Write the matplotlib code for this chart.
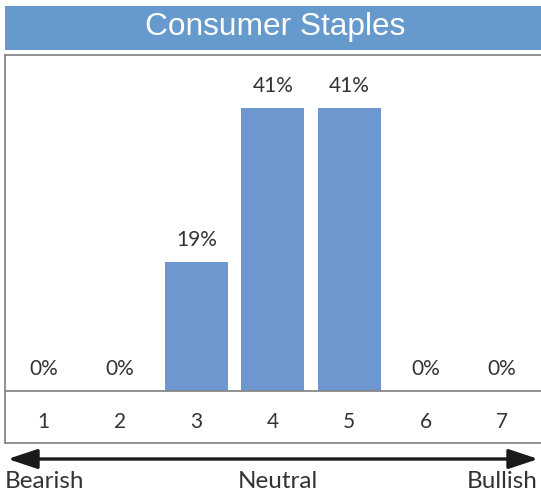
import matplotlib
matplotlib.use("Agg")
import matplotlib.pyplot as plt
from matplotlib.patches import Rectangle, FancyArrowPatch

categories = ["1", "2", "3", "4", "5", "6", "7"]
values = [0.0, 0.0, 18.5, 40.7, 40.7, 0.0, 0.0]
value_labels = ["0%", "0%", "19%", "41%", "41%", "0%", "0%"]
title = "Consumer Staples"
scale_labels = ["Bearish", "Neutral", "Bullish"]

W, H = 541, 492
fig = plt.figure(figsize=(W / 100, H / 100), dpi=100)
fig.patch.set_facecolor("white")

def fx(px):
    return px / W

def fy(py):
    return 1 - py / H

text_color = "#333333"
font = ["Lato", "DejaVu Sans"]

# Title bar
fig.patches.append(Rectangle((fx(5), fy(50)), fx(541) - fx(5), fy(6) - fy(50),
                             transform=fig.transFigure, facecolor="#6699CC",
                             edgecolor="none", zorder=0))
fig.text(fx(275), fy(27), title, color="white", fontsize=22.8,
         family=["Liberation Sans", "DejaVu Sans"], ha="center", va="center")

# Main axes (right border runs off the image, as in the reference)
ax = fig.add_axes([fx(5), fy(443), fx(545) - fx(5), fy(55) - fy(443)])
x = list(range(1, len(categories) + 1))
ax.bar(x, values, width=0.82, color="#6D97CE", zorder=2)
ax.set_xlim(0.5, 0.5 + 540 / 76.5)
ax.set_ylim(-7.48, 48.35)
ax.axhline(0, color="#888888", lw=1.3, zorder=3)
for s in ax.spines.values():
    s.set_color("#888888")
    s.set_linewidth(1.3)
ax.set_xticks([])
ax.set_yticks([])

for xi, v, lab, cat in zip(x, values, value_labels, categories):
    ax.annotate(lab, (xi, v), xytext=(0, 16), textcoords="offset points",
                ha="center", va="center", fontsize=15, color=text_color,
                family=font)
    ax.text(xi, -4.45, cat, ha="center", va="center", fontsize=15,
            color=text_color, family=font)

# Arrow
arrow = FancyArrowPatch((fx(5), fy(459)), (fx(541), fy(459)),
                        transform=fig.transFigure,
                        arrowstyle="<|-|>,head_length=18,head_width=6",
                        color="#1a1a1a", lw=2.4, mutation_scale=1)
fig.patches.append(arrow)

fig.text(fx(5), fy(481), scale_labels[0], ha="left", va="center",
         fontsize=17.5, color=text_color, family=font)
fig.text(fx(278), fy(481), scale_labels[1], ha="center", va="center",
         fontsize=17.5, color=text_color, family=font)
fig.text(fx(538), fy(481), scale_labels[2], ha="right", va="center",
         fontsize=17.5, color=text_color, family=font)

fig.savefig("out.png", dpi=100)
